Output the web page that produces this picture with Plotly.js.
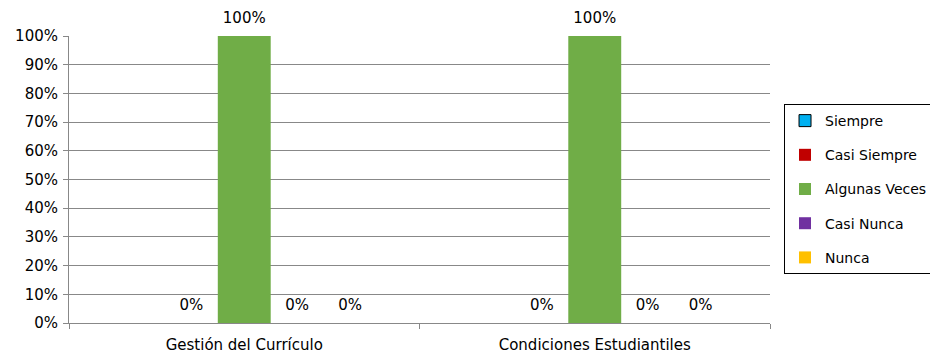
<!DOCTYPE html>
<html>
<head>
<meta charset="utf-8">
<script src="https://cdn.plot.ly/plotly-3.0.1.min.js"></script>
<style>
  html, body { margin: 0; padding: 0; background: #ffffff; }
  #chart { width: 930px; height: 354px; }
</style>
</head>
<body>
<div id="chart"></div>
<script>
// Categories and percentage answers per frequency option
const categories = ['Gestión del Currículo', 'Condiciones Estudiantiles'];
const siempre = [null, null];
const casiSiempre = [0, 0];
const algunasVeces = [100, 100];
const casiNunca = [0, 0];
const nunca = [0, 0];
const yTicks = [0, 10, 20, 30, 40, 50, 60, 70, 80, 90, 100];

const seriesNames = ['Siempre', 'Casi Siempre', 'Algunas Veces', 'Casi Nunca', 'Nunca'];
const seriesValues = [siempre, casiSiempre, algunasVeces, casiNunca, nunca];
const seriesColors = ['#00B0F0', '#C00000', '#70AD47', '#7030A0', '#FFC000'];

const FONT_FAMILY = 'DejaVu Sans, Arial, sans-serif';
const font = { family: FONT_FAMILY, size: 15, color: '#000000' };
const GAP = 0.245;

// Bars, one trace per frequency option
const barTraces = seriesNames.map((name, i) => ({
  type: 'bar',
  name: name,
  legendgroup: name,
  x: categories,
  y: seriesValues[i],
  marker: {
    color: seriesColors[i],
    line: { color: i === 0 ? '#000000' : seriesColors[i], width: i === 0 ? 1 : 0 }
  },
  hoverinfo: 'none'
}));

// Value labels, grouped the same way as the bars so each sits over its bar
const labelTraces = seriesNames.map((name, i) => ({
  type: 'scatter',
  mode: 'markers+text',
  name: name + ' (etiqueta)',
  showlegend: false,
  x: categories,
  y: seriesValues[i],
  text: seriesValues[i].map(v => (v === null ? '' : v + '%')),
  textposition: 'top center',
  textfont: font,
  marker: { size: 14, opacity: 0, color: seriesColors[i] },
  cliponaxis: false,
  hoverinfo: 'none'
}));

const layout = {
  width: 930,
  height: 354,
  margin: { l: 69, r: 160, t: 36, b: 31, autoexpand: false },
  paper_bgcolor: '#ffffff',
  plot_bgcolor: '#ffffff',
  font: font,
  barmode: 'group',
  bargap: GAP,
  bargroupgap: 0,
  scattermode: 'group',
  scattergap: GAP,
  showlegend: true,
  legend: {
    x: 1.02,
    xanchor: 'left',
    y: 0.763,
    yanchor: 'top',
    bordercolor: '#000000',
    borderwidth: 1,
    bgcolor: '#ffffff',
    traceorder: 'grouped',
    tracegroupgap: 13,
    font: { family: FONT_FAMILY, size: 14, color: '#000000' }
  },
  xaxis: {
    type: 'category',
    tickson: 'boundaries',
    ticks: 'outside',
    ticklen: 5,
    tickcolor: '#888888',
    ticklabelstandoff: 8,
    showline: true,
    linecolor: '#888888',
    linewidth: 1,
    showgrid: false,
    tickfont: font,
    fixedrange: true
  },
  yaxis: {
    range: [0, 100],
    tickvals: yTicks,
    ticktext: yTicks.map(v => v + '%'),
    ticks: 'outside',
    ticklen: 5,
    tickcolor: '#888888',
    ticklabelstandoff: 2,
    showline: true,
    linecolor: '#888888',
    linewidth: 1,
    showgrid: true,
    gridcolor: '#888888',
    gridwidth: 1,
    zeroline: false,
    tickfont: font,
    fixedrange: true
  }
};

Plotly.newPlot('chart', barTraces.concat(labelTraces), layout, { staticPlot: true, displayModeBar: false });
</script>
</body>
</html>
